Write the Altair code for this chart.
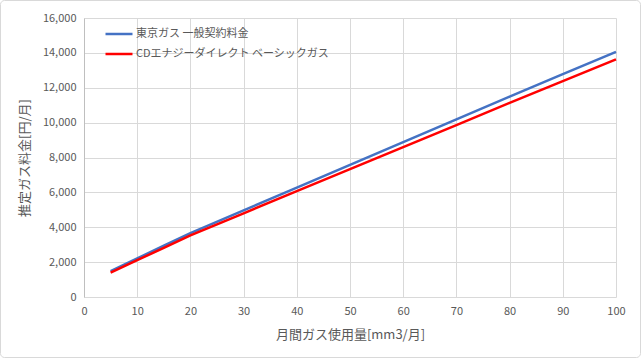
import altair as alt
import pandas as pd

usage = [5, 10, 15, 20, 30, 40, 50, 60, 70, 80, 90, 100]
tokyo = [1485, 2212, 2939, 3665, 4970, 6274, 7579, 8884, 10188, 11493, 12776, 14058]
cde = [1400, 2110, 2820, 3530, 4800, 6070, 7330, 8600, 9860, 11130, 12380, 13630]
series_names = ["東京ガス 一般契約料金", "CDエナジーダイレクト ベーシックガス"]
series_colors = ["#4472C4", "#FF0000"]

rows = []
for u, a, b in zip(usage, tokyo, cde):
    rows.append({"usage": u, "fee": a, "series": series_names[0]})
    rows.append({"usage": u, "fee": b, "series": series_names[1]})
df = pd.DataFrame(rows)

FONT = "Noto Sans CJK JP"
W, H = 532, 279

lines = alt.Chart(df).mark_line(strokeWidth=2.5).encode(
    x=alt.X("usage:Q", scale=alt.Scale(domain=[0, 100], nice=False),
            axis=alt.Axis(title="月間ガス使用量[mm3/月]", values=list(range(0, 101, 10)),
                          titlePadding=12)),
    y=alt.Y("fee:Q", scale=alt.Scale(domain=[0, 16000], nice=False),
            axis=alt.Axis(title="推定ガス料金[円/月]", values=list(range(0, 16001, 2000)),
                          format=",d", titlePadding=11)),
    color=alt.Color("series:N", scale=alt.Scale(domain=series_names, range=series_colors),
                    sort=series_names,
                    legend=alt.Legend(title=None, orient="none", legendX=20, legendY=1,
                                      symbolType="stroke", symbolSize=729,
                                      symbolStrokeWidth=2.5, labelFontSize=11,
                                      labelColor="#595959", labelOffset=2,
                                      labelLimit=0,
                                      rowPadding=-2, labelFont=FONT)),
    order="usage:Q",
)

border = alt.Chart(pd.DataFrame({"a": [0]})).mark_rect(
    fill=None, stroke="#d9d9d9", strokeWidth=1, cornerRadius=4
).encode(x=alt.value(-83.5), x2=alt.value(W + 24.5), y=alt.value(-17.5), y2=alt.value(H + 60.5))

chart = alt.layer(lines, border).properties(
    width=W, height=H,
    autosize=alt.AutoSizeParams(type="none"),
    padding={"left": 84, "top": 18, "right": 25, "bottom": 61},
).configure(font=FONT, background="white").configure_view(
    stroke=None
).configure_axis(
    gridColor="#d9d9d9", gridWidth=1, domain=False, ticks=False,
    labelColor="#595959", labelFontSize=11, labelFont=FONT,
    titleColor="#595959", titleFontSize=13, titleFontWeight="normal", titleFont=FONT,
    labelPadding=8, labelFlush=False,
).configure_axisY(domain=True, domainColor="#bfbfbf")

chart.save("out.html", embed_options={"renderer": "svg", "actions": False})
